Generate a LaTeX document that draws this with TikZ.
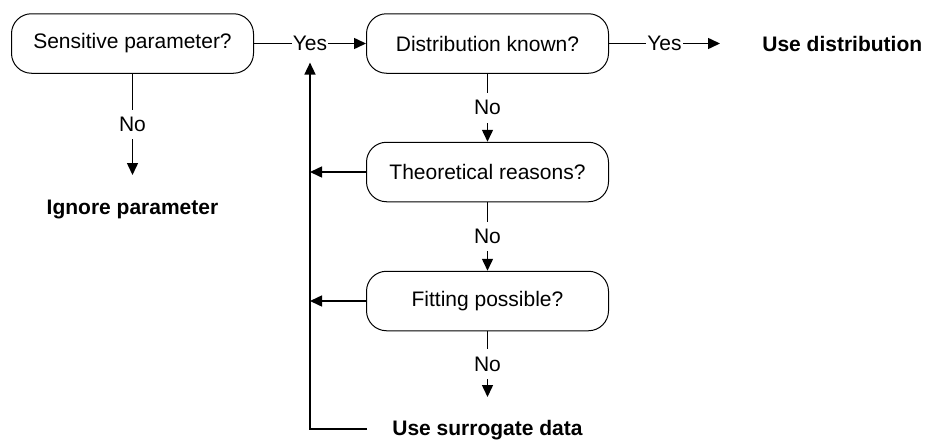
\documentclass[tikz,border=0pt]{standalone}
\usepackage{fontspec}
\setmainfont{Liberation Sans}
\usetikzlibrary{arrows.meta}
\begin{document}
\begin{tikzpicture}[x=0.5pt,y=-0.5pt,
  font=\fontsize{10.5}{12.6}\selectfont,
  box/.style={draw, line width=0.5pt, rounded corners=10pt,
    minimum width=121pt, minimum height=29.75pt, inner sep=0pt},
  result/.style={font=\fontsize{10.5}{12.6}\selectfont\bfseries, inner sep=2.5pt},
  conn/.style={line width=0.75pt},
  arr/.style={conn, -{Triangle[length=6pt,width=5.5pt]}},
  lbl/.style={fill=white, inner xsep=0.5pt, inner ysep=3.75pt}]
\useasboundingbox (0,0) rectangle (926,439);

% decision boxes
\node[box] (s1) at (132.5,43.5) {Sensitive parameter?};
\node[box] (s2) at (487.5,43.5) {Distribution known?};
\node[box] (s3) at (487.5,172) {Theoretical reasons?};
\node[box] (s4) at (487.5,301) {Fitting possible?};

% outcomes
\node[result, anchor=west] (usedist) at (757,43.5) {Use distribution};
\node[result, anchor=base] (ign) at (132.5,214) {Ignore parameter};
\node[result, anchor=base] (surr) at (487.5,435) {Use surrogate data};

% free arrow ends
\coordinate (e1) at (132.5,175);
\coordinate (e2) at (720,43.5);
\coordinate (e4) at (487.5,397);
\coordinate (sb) at (367,429);

% main flow
\draw[arr] (s1) -- node[lbl] (yesA) {Yes} (s2);
\draw[arr] (s2) -- node[lbl] {Yes} (e2);
\draw[arr] (s1) -- node[lbl] {No} (e1);
\draw[arr] (s2) -- node[lbl] {No} (s3);
\draw[arr] (s3) -- node[lbl] {No} (s4);
\draw[arr] (s4) -- node[lbl] {No} (e4);

% return path to the first "Yes"
\draw[arr] (s3.west) -- (s3.west -| yesA);
\draw[arr] (s4.west) -- (s4.west -| yesA);
\draw[arr, shorten >=1.75pt] (sb) -| (yesA.south);
\end{tikzpicture}
\end{document}
